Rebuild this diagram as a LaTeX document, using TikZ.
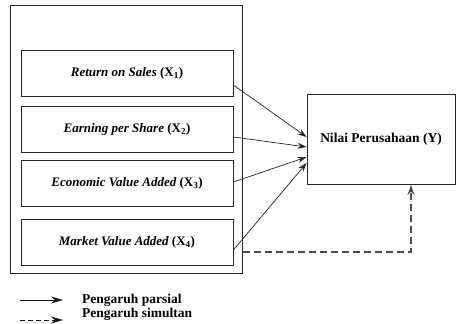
\documentclass[tikz,border=0pt]{standalone}
\usepackage{fontspec}
\setmainfont{Liberation Serif}
\usetikzlibrary{arrows.meta}
\begin{document}
\begin{tikzpicture}[x=1pt,y=-1pt,
  varbox/.style={draw=black!85,line width=0.8pt,minimum width=212pt,minimum height=46pt,inner sep=0pt,font=\fontsize{13}{14}\selectfont\bfseries\itshape},
  ybox/.style={draw=black!85,line width=0.8pt,minimum width=148pt,minimum height=90pt,inner sep=0pt,font=\fontsize{13.5}{14}\selectfont\bfseries},
  partarrow/.style={draw=black!85,line width=0.7pt,-{Stealth[length=9pt,width=6pt]}},
  simarrow/.style={draw=black!70,line width=1.1pt,dash pattern=on 7pt off 4pt,-{Stealth[length=10pt,width=7pt]}},
  legarrow/.style={draw=black!90,line width=0.8pt,-{Stealth[length=12pt,width=7pt]}},
  legtext/.style={anchor=west,inner sep=0pt,font=\fontsize{13.5}{14}\selectfont\bfseries}]
\useasboundingbox (0,0) rectangle (456,324);
\node[draw=black!85,line width=0.8pt,minimum width=232pt,minimum height=268pt,inner sep=0pt] (outer) at (126,139) {};
\node[varbox] (x1) at (127,73) {Return on Sales {\upshape(X\textsubscript{1})}};
\node[varbox] (x2) at (127,129) {Earning per Share {\upshape(X\textsubscript{2})}};
\node[varbox] (x3) at (127,183) {Economic Value Added {\upshape(X\textsubscript{3})}};
\node[varbox] (x4) at (127,242.5) {Market Value Added {\upshape(X\textsubscript{4})}};
\node[ybox] (y) at (381,139) {Nilai Perusahaan (Y)};
\draw[partarrow] (x1.east|-0,85) -- (y.west|-0,137);
\draw[partarrow] (x2.east|-0,137) -- (y.west|-0,147);
\draw[partarrow] (x3.east|-0,182) -- (y.west|-0,157);
\draw[partarrow] (x4.east|-0,250) -- (y.west|-0,163);
\coordinate (dstart) at (243,252);
\draw[simarrow] (dstart) -- (411,252) -- (411,185);
\coordinate (l1a) at (20,300);
\coordinate (l1b) at (63,300);
\coordinate (l2a) at (20,320);
\coordinate (l2b) at (63,320);
\draw[legarrow] (l1a) -- (l1b);
\draw[legarrow,dash pattern=on 5pt off 3pt] (l2a) -- (l2b);
\node[legtext] (t1) at (82,300) {Pengaruh parsial};
\node[legtext] (t2) at (82,314) {Pengaruh simultan};
\end{tikzpicture}
\end{document}
